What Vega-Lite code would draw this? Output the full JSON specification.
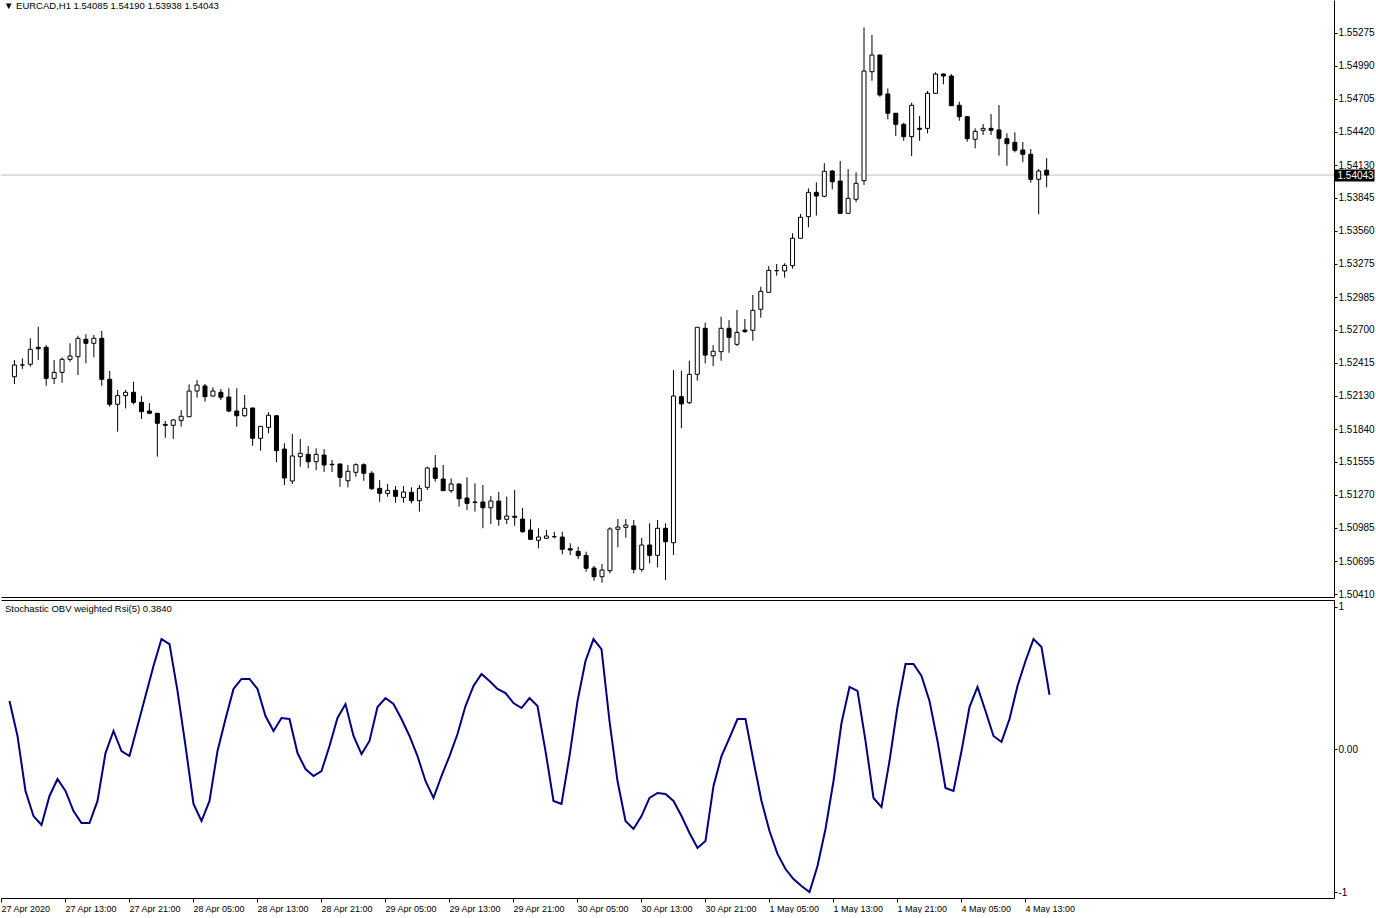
{
  "$schema": "https://vega.github.io/schema/vega-lite/v6.json",
  "padding": 0,
  "background": "white",
  "spacing": 0,
  "config": {
    "view": {"stroke": null},
    "axis": {"labelFont": "Liberation Sans", "labelColor": "black", "domainColor": "black", "tickColor": "black", "grid": false, "title": null, "labelFlush": false, "labelOverlap": false},
    "title": {"font": "Liberation Sans", "fontWeight": "normal", "color": "black"}
  },
  "datasets": {
    "last": [{"p": 1.54043}],
    "ohlc": [
      {"i":0,"o":1.52294,"h":1.52439,"l":1.52231,"c":1.52396},
      {"i":1,"o":1.52396,"h":1.52454,"l":1.52361,"c":1.52396},
      {"i":2,"o":1.52402,"h":1.52627,"l":1.52381,"c":1.52532},
      {"i":3,"o":1.52549,"h":1.52728,"l":1.52439,"c":1.52537},
      {"i":4,"o":1.52549,"h":1.52569,"l":1.52216,"c":1.52280},
      {"i":5,"o":1.52280,"h":1.52439,"l":1.52231,"c":1.52332},
      {"i":6,"o":1.52332,"h":1.52463,"l":1.52242,"c":1.52445},
      {"i":7,"o":1.52445,"h":1.52584,"l":1.52424,"c":1.52474},
      {"i":8,"o":1.52468,"h":1.52650,"l":1.52309,"c":1.52627},
      {"i":9,"o":1.52619,"h":1.52662,"l":1.52410,"c":1.52584},
      {"i":10,"o":1.52584,"h":1.52656,"l":1.52463,"c":1.52627},
      {"i":11,"o":1.52627,"h":1.52691,"l":1.52216,"c":1.52272},
      {"i":12,"o":1.52272,"h":1.52344,"l":1.52034,"c":1.52055},
      {"i":13,"o":1.52055,"h":1.52179,"l":1.51817,"c":1.52130},
      {"i":14,"o":1.52130,"h":1.52179,"l":1.52020,"c":1.52159},
      {"i":15,"o":1.52159,"h":1.52251,"l":1.52055,"c":1.52072},
      {"i":16,"o":1.52072,"h":1.52127,"l":1.51927,"c":1.51991},
      {"i":17,"o":1.51997,"h":1.52064,"l":1.51971,"c":1.51977},
      {"i":18,"o":1.51977,"h":1.51980,"l":1.51601,"c":1.51890},
      {"i":19,"o":1.51881,"h":1.51910,"l":1.51765,"c":1.51873},
      {"i":20,"o":1.51873,"h":1.51927,"l":1.51754,"c":1.51919},
      {"i":21,"o":1.51916,"h":1.52005,"l":1.51861,"c":1.51951},
      {"i":22,"o":1.51947,"h":1.52228,"l":1.51945,"c":1.52170},
      {"i":23,"o":1.52170,"h":1.52266,"l":1.52112,"c":1.52222},
      {"i":24,"o":1.52214,"h":1.52231,"l":1.52077,"c":1.52121},
      {"i":25,"o":1.52127,"h":1.52202,"l":1.52121,"c":1.52170},
      {"i":26,"o":1.52159,"h":1.52188,"l":1.52092,"c":1.52116},
      {"i":27,"o":1.52118,"h":1.52194,"l":1.51986,"c":1.51997},
      {"i":28,"o":1.51997,"h":1.52194,"l":1.51861,"c":1.51956},
      {"i":29,"o":1.51956,"h":1.52136,"l":1.51947,"c":1.52020},
      {"i":30,"o":1.52023,"h":1.52025,"l":1.51696,"c":1.51760},
      {"i":31,"o":1.51760,"h":1.51866,"l":1.51653,"c":1.51864},
      {"i":32,"o":1.51855,"h":1.51986,"l":1.51803,"c":1.51960},
      {"i":33,"o":1.51956,"h":1.51962,"l":1.51552,"c":1.51653},
      {"i":34,"o":1.51667,"h":1.51717,"l":1.51355,"c":1.51416},
      {"i":35,"o":1.51390,"h":1.51797,"l":1.51364,"c":1.51607},
      {"i":36,"o":1.51601,"h":1.51754,"l":1.51514,"c":1.51630},
      {"i":37,"o":1.51621,"h":1.51693,"l":1.51500,"c":1.51557},
      {"i":38,"o":1.51557,"h":1.51673,"l":1.51485,"c":1.51621},
      {"i":39,"o":1.51615,"h":1.51667,"l":1.51468,"c":1.51529},
      {"i":40,"o":1.51535,"h":1.51572,"l":1.51468,"c":1.51531},
      {"i":41,"o":1.51537,"h":1.51543,"l":1.51340,"c":1.51422},
      {"i":42,"o":1.51392,"h":1.51529,"l":1.51335,"c":1.51474},
      {"i":43,"o":1.51465,"h":1.51543,"l":1.51427,"c":1.51531},
      {"i":44,"o":1.51531,"h":1.51543,"l":1.51392,"c":1.51457},
      {"i":45,"o":1.51457,"h":1.51474,"l":1.51312,"c":1.51323},
      {"i":46,"o":1.51326,"h":1.51398,"l":1.51210,"c":1.51283},
      {"i":47,"o":1.51283,"h":1.51364,"l":1.51254,"c":1.51309},
      {"i":48,"o":1.51309,"h":1.51346,"l":1.51202,"c":1.51257},
      {"i":49,"o":1.51248,"h":1.51346,"l":1.51202,"c":1.51294},
      {"i":50,"o":1.51292,"h":1.51335,"l":1.51196,"c":1.51219},
      {"i":51,"o":1.51219,"h":1.51355,"l":1.51124,"c":1.51326},
      {"i":52,"o":1.51335,"h":1.51514,"l":1.51312,"c":1.51503},
      {"i":53,"o":1.51503,"h":1.51615,"l":1.51384,"c":1.51413},
      {"i":54,"o":1.51407,"h":1.51529,"l":1.51304,"c":1.51306},
      {"i":55,"o":1.51306,"h":1.51413,"l":1.51288,"c":1.51364},
      {"i":56,"o":1.51364,"h":1.51366,"l":1.51167,"c":1.51236},
      {"i":57,"o":1.51242,"h":1.51422,"l":1.51138,"c":1.51196},
      {"i":58,"o":1.51208,"h":1.51370,"l":1.51124,"c":1.51203},
      {"i":59,"o":1.51208,"h":1.51355,"l":1.50980,"c":1.51158},
      {"i":60,"o":1.51158,"h":1.51260,"l":1.51017,"c":1.51216},
      {"i":61,"o":1.51216,"h":1.51294,"l":1.51002,"c":1.51058},
      {"i":62,"o":1.51058,"h":1.51254,"l":1.51017,"c":1.51086},
      {"i":63,"o":1.51084,"h":1.51312,"l":1.51002,"c":1.51075},
      {"i":64,"o":1.51060,"h":1.51156,"l":1.50941,"c":1.50950},
      {"i":65,"o":1.50965,"h":1.51058,"l":1.50878,"c":1.50884},
      {"i":66,"o":1.50876,"h":1.50980,"l":1.50806,"c":1.50904},
      {"i":67,"o":1.50893,"h":1.50965,"l":1.50891,"c":1.50913},
      {"i":68,"o":1.50907,"h":1.50950,"l":1.50893,"c":1.50907},
      {"i":69,"o":1.50904,"h":1.50950,"l":1.50754,"c":1.50798},
      {"i":70,"o":1.50803,"h":1.50850,"l":1.50748,"c":1.50791},
      {"i":71,"o":1.50780,"h":1.50820,"l":1.50713,"c":1.50742},
      {"i":72,"o":1.50745,"h":1.50777,"l":1.50603,"c":1.50633},
      {"i":73,"o":1.50635,"h":1.50653,"l":1.50525,"c":1.50560},
      {"i":74,"o":1.50560,"h":1.50670,"l":1.50508,"c":1.50618},
      {"i":75,"o":1.50612,"h":1.50988,"l":1.50589,"c":1.50974},
      {"i":76,"o":1.50971,"h":1.51060,"l":1.50815,"c":1.50991},
      {"i":77,"o":1.50988,"h":1.51060,"l":1.50898,"c":1.51008},
      {"i":78,"o":1.51000,"h":1.51052,"l":1.50589,"c":1.50624},
      {"i":79,"o":1.50624,"h":1.50896,"l":1.50603,"c":1.50835},
      {"i":80,"o":1.50835,"h":1.51023,"l":1.50676,"c":1.50745},
      {"i":81,"o":1.50745,"h":1.51052,"l":1.50641,"c":1.50980},
      {"i":82,"o":1.50980,"h":1.51023,"l":1.50531,"c":1.50863},
      {"i":83,"o":1.50855,"h":1.52352,"l":1.50748,"c":1.52127},
      {"i":84,"o":1.52121,"h":1.52346,"l":1.51847,"c":1.52058},
      {"i":85,"o":1.52069,"h":1.52433,"l":1.52058,"c":1.52315},
      {"i":86,"o":1.52315,"h":1.52725,"l":1.52260,"c":1.52723},
      {"i":87,"o":1.52714,"h":1.52763,"l":1.52410,"c":1.52482},
      {"i":88,"o":1.52476,"h":1.52569,"l":1.52387,"c":1.52515},
      {"i":89,"o":1.52511,"h":1.52815,"l":1.52433,"c":1.52714},
      {"i":90,"o":1.52714,"h":1.52786,"l":1.52502,"c":1.52636},
      {"i":91,"o":1.52575,"h":1.52873,"l":1.52561,"c":1.52679},
      {"i":92,"o":1.52699,"h":1.52795,"l":1.52676,"c":1.52685},
      {"i":93,"o":1.52697,"h":1.53003,"l":1.52606,"c":1.52870},
      {"i":94,"o":1.52879,"h":1.53075,"l":1.52806,"c":1.53035},
      {"i":95,"o":1.53026,"h":1.53254,"l":1.53024,"c":1.53217},
      {"i":96,"o":1.53214,"h":1.53272,"l":1.53170,"c":1.53214},
      {"i":97,"o":1.53211,"h":1.53278,"l":1.53153,"c":1.53260},
      {"i":98,"o":1.53257,"h":1.53538,"l":1.53231,"c":1.53495},
      {"i":99,"o":1.53495,"h":1.53705,"l":1.53493,"c":1.53677},
      {"i":100,"o":1.53682,"h":1.53928,"l":1.53590,"c":1.53893},
      {"i":101,"o":1.53893,"h":1.53980,"l":1.53691,"c":1.53861},
      {"i":102,"o":1.53859,"h":1.54145,"l":1.53850,"c":1.54076},
      {"i":103,"o":1.54078,"h":1.54087,"l":1.53919,"c":1.53985},
      {"i":104,"o":1.53991,"h":1.54165,"l":1.53709,"c":1.53711},
      {"i":105,"o":1.53711,"h":1.54095,"l":1.53709,"c":1.53841},
      {"i":106,"o":1.53833,"h":1.54067,"l":1.53807,"c":1.53971},
      {"i":107,"o":1.53994,"h":1.55324,"l":1.53957,"c":1.54945},
      {"i":108,"o":1.54939,"h":1.55258,"l":1.54861,"c":1.55084},
      {"i":109,"o":1.55084,"h":1.55086,"l":1.54722,"c":1.54737},
      {"i":110,"o":1.54746,"h":1.54795,"l":1.54526,"c":1.54579},
      {"i":111,"o":1.54579,"h":1.54581,"l":1.54382,"c":1.54483},
      {"i":112,"o":1.54483,"h":1.54497,"l":1.54341,"c":1.54376},
      {"i":113,"o":1.54376,"h":1.54670,"l":1.54208,"c":1.54648},
      {"i":114,"o":1.54448,"h":1.54555,"l":1.54341,"c":1.54440},
      {"i":115,"o":1.54448,"h":1.54772,"l":1.54405,"c":1.54752},
      {"i":116,"o":1.54752,"h":1.54934,"l":1.54746,"c":1.54919},
      {"i":117,"o":1.54919,"h":1.54925,"l":1.54830,"c":1.54902},
      {"i":118,"o":1.54902,"h":1.54919,"l":1.54642,"c":1.54644},
      {"i":119,"o":1.54648,"h":1.54679,"l":1.54514,"c":1.54549},
      {"i":120,"o":1.54549,"h":1.54555,"l":1.54332,"c":1.54358},
      {"i":121,"o":1.54353,"h":1.54448,"l":1.54275,"c":1.54422},
      {"i":122,"o":1.54431,"h":1.54486,"l":1.54390,"c":1.54448},
      {"i":123,"o":1.54448,"h":1.54572,"l":1.54390,"c":1.54431},
      {"i":124,"o":1.54434,"h":1.54650,"l":1.54211,"c":1.54362},
      {"i":125,"o":1.54358,"h":1.54405,"l":1.54124,"c":1.54315},
      {"i":126,"o":1.54327,"h":1.54414,"l":1.54240,"c":1.54258},
      {"i":127,"o":1.54260,"h":1.54330,"l":1.54154,"c":1.54223},
      {"i":128,"o":1.54223,"h":1.54269,"l":1.53977,"c":1.54006},
      {"i":129,"o":1.54006,"h":1.54095,"l":1.53703,"c":1.54078},
      {"i":130,"o":1.54085,"h":1.54190,"l":1.53938,"c":1.54043}
    ],
    "ind": [
      {"i":0,"v":0.340},{"i":1,"v":0.095},{"i":2,"v":-0.291},{"i":3,"v":-0.467},{"i":4,"v":-0.530},
      {"i":5,"v":-0.326},{"i":6,"v":-0.207},{"i":7,"v":-0.291},{"i":8,"v":-0.432},{"i":9,"v":-0.516},
      {"i":10,"v":-0.516},{"i":11,"v":-0.361},{"i":12,"v":-0.025},{"i":13,"v":0.130},{"i":14,"v":-0.011},
      {"i":15,"v":-0.046},{"i":16,"v":0.165},{"i":17,"v":0.375},{"i":18,"v":0.586},{"i":19,"v":0.775},
      {"i":20,"v":0.740},{"i":21,"v":0.411},{"i":22,"v":0.025},{"i":23,"v":-0.382},{"i":24,"v":-0.502},
      {"i":25,"v":-0.361},{"i":26,"v":-0.011},{"i":27,"v":0.214},{"i":28,"v":0.425},{"i":29,"v":0.495},
      {"i":30,"v":0.495},{"i":31,"v":0.425},{"i":32,"v":0.235},{"i":33,"v":0.130},{"i":34,"v":0.221},
      {"i":35,"v":0.214},{"i":36,"v":-0.025},{"i":37,"v":-0.137},{"i":38,"v":-0.186},{"i":39,"v":-0.151},
      {"i":40,"v":0.025},{"i":41,"v":0.221},{"i":42,"v":0.319},{"i":43,"v":0.095},{"i":44,"v":-0.032},
      {"i":45,"v":0.060},{"i":46,"v":0.298},{"i":47,"v":0.361},{"i":48,"v":0.319},{"i":49,"v":0.214},
      {"i":50,"v":0.095},{"i":51,"v":-0.046},{"i":52,"v":-0.221},{"i":53,"v":-0.340},{"i":54,"v":-0.186},
      {"i":55,"v":-0.046},{"i":56,"v":0.109},{"i":57,"v":0.305},{"i":58,"v":0.446},{"i":59,"v":0.530},
      {"i":60,"v":0.481},{"i":61,"v":0.425},{"i":62,"v":0.396},{"i":63,"v":0.326},{"i":64,"v":0.291},
      {"i":65,"v":0.361},{"i":66,"v":0.305},{"i":67,"v":-0.011},{"i":68,"v":-0.361},{"i":69,"v":-0.382},
      {"i":70,"v":-0.046},{"i":71,"v":0.340},{"i":72,"v":0.621},{"i":73,"v":0.775},{"i":74,"v":0.705},
      {"i":75,"v":0.200},{"i":76,"v":-0.221},{"i":77,"v":-0.502},{"i":78,"v":-0.558},{"i":79,"v":-0.467},
      {"i":80,"v":-0.340},{"i":81,"v":-0.305},{"i":82,"v":-0.312},{"i":83,"v":-0.361},{"i":84,"v":-0.467},
      {"i":85,"v":-0.586},{"i":86,"v":-0.691},{"i":87,"v":-0.642},{"i":88,"v":-0.256},{"i":89,"v":-0.046},
      {"i":90,"v":0.081},{"i":91,"v":0.214},{"i":92,"v":0.214},{"i":93,"v":-0.081},{"i":94,"v":-0.361},
      {"i":95,"v":-0.572},{"i":96,"v":-0.733},{"i":97,"v":-0.839},{"i":98,"v":-0.909},{"i":99,"v":-0.958},
      {"i":100,"v":-1.000},{"i":101,"v":-0.818},{"i":102,"v":-0.558},{"i":103,"v":-0.221},{"i":104,"v":0.186},
      {"i":105,"v":0.439},{"i":106,"v":0.411},{"i":107,"v":0.060},{"i":108,"v":-0.340},{"i":109,"v":-0.404},
      {"i":110,"v":-0.081},{"i":111,"v":0.298},{"i":112,"v":0.600},{"i":113,"v":0.600},{"i":114,"v":0.516},
      {"i":115,"v":0.340},{"i":116,"v":0.060},{"i":117,"v":-0.270},{"i":118,"v":-0.291},{"i":119,"v":-0.011},
      {"i":120,"v":0.298},{"i":121,"v":0.439},{"i":122,"v":0.270},{"i":123,"v":0.095},{"i":124,"v":0.053},
      {"i":125,"v":0.214},{"i":126,"v":0.446},{"i":127,"v":0.621},{"i":128,"v":0.775},{"i":129,"v":0.719},
      {"i":130,"v":0.384}
    ]
  },
  "vconcat": [
    {
      "width": 1333,
      "height": 597,
      "title": {"text": "▼ EURCAD,H1  1.54085 1.54190 1.53938 1.54043", "anchor": "start", "frame": "group", "offset": -10, "baseline": "top", "dx": 3, "fontSize": 9.5},
      "layer": [
        {
          "data": {"name": "last"},
          "mark": {"type": "rule", "color": "#c0c0c0", "strokeWidth": 1},
          "encoding": {
            "y": {"field": "p", "type": "quantitative",
              "scale": {"domain": [1.50384, 1.55561], "nice": false, "zero": false},
              "axis": {"orient": "right", "values": [1.54043], "format": ".5f", "domain": false, "tickSize": 40, "tickWidth": 12, "tickCap": "butt", "tickColor": "black", "labelPadding": -37, "labelColor": "white", "labelFontSize": 10}}
          }
        },
        {
          "data": {"name": "ohlc"},
          "mark": {"type": "rule", "color": "black", "strokeWidth": 1},
          "encoding": {
            "x": {"field": "i", "type": "quantitative",
              "scale": {"domain": [-1.0625, 165.5625], "nice": false, "zero": false},
              "axis": {"labels": false, "ticks": false, "domain": true}},
            "y": {"field": "l", "type": "quantitative",
              "scale": {"domain": [1.50384, 1.55561], "nice": false, "zero": false},
              "axis": {"orient": "right", "values": [1.5041, 1.50695, 1.50985, 1.5127, 1.51555, 1.5184, 1.5213, 1.52415, 1.527, 1.52985, 1.53275, 1.5356, 1.53845, 1.5413, 1.5442, 1.54705, 1.5499, 1.55275], "format": ".5f", "tickSize": 3, "labelPadding": 1, "labelFontSize": 10}},
            "y2": {"field": "h"}
          }
        },
        {
          "data": {"name": "ohlc"},
          "mark": {"type": "bar", "width": 4, "stroke": "black", "strokeWidth": 1},
          "encoding": {
            "x": {"field": "i", "type": "quantitative"},
            "y": {"field": "o", "type": "quantitative", "axis": null},
            "y2": {"field": "c"},
            "fill": {"condition": {"test": "datum.c >= datum.o", "value": "white"}, "value": "black"}
          }
        }
      ],
      "resolve": {"scale": {"y": "shared"}, "axis": {"y": "independent"}}
    },
    {
      "width": 1333,
      "height": 298,
      "title": {"text": "Stochastic OBV weighted Rsi(5) 0.3840", "anchor": "start", "frame": "group", "offset": -13, "baseline": "top", "dx": 4, "fontSize": 9.5},
      "layer": [
        {
          "data": {"name": "ind"},
          "mark": {"type": "line", "color": "#000080", "strokeWidth": 2},
          "encoding": {
            "x": {"field": "i", "type": "quantitative",
              "scale": {"domain": [-1.0625, 165.5625], "nice": false, "zero": false},
              "axis": {"orient": "bottom", "values": [-1.0625, 6.9375, 14.9375, 22.9375, 30.9375, 38.9375, 46.9375, 54.9375, 62.9375, 70.9375, 78.9375, 86.9375, 94.9375, 102.9375, 110.9375, 118.9375, 126.9375],
                "labelExpr": "['27 Apr 2020','27 Apr 13:00','27 Apr 21:00','28 Apr 05:00','28 Apr 13:00','28 Apr 21:00','29 Apr 05:00','29 Apr 13:00','29 Apr 21:00','30 Apr 05:00','30 Apr 13:00','30 Apr 21:00','1 May 05:00','1 May 13:00','1 May 21:00','4 May 05:00','4 May 13:00'][round((datum.value + 1) / 8)]",
                "labelAlign": "left", "labelDx": 1, "tickSize": 4, "labelPadding": 2, "labelFontSize": 9}},
            "y": {"field": "v", "type": "quantitative",
              "scale": {"domain": [-1.0421, 1.0491], "nice": false, "zero": false},
              "axis": {"orient": "right", "values": [-1, 0, 1], "labelExpr": "datum.value == 0 ? '0.00' : (datum.value > 0 ? '1' : '-1')", "tickSize": 3, "labelPadding": 1, "labelFontSize": 10}}
          }
        },
        {
          "data": {"name": "ind"},
          "mark": {"type": "rule", "opacity": 0},
          "encoding": {
            "x": {"field": "i", "type": "quantitative",
              "axis": {"orient": "top", "labels": false, "ticks": false, "domain": true}}
          }
        }
      ],
      "resolve": {"axis": {"x": "independent"}}
    }
  ]
}
